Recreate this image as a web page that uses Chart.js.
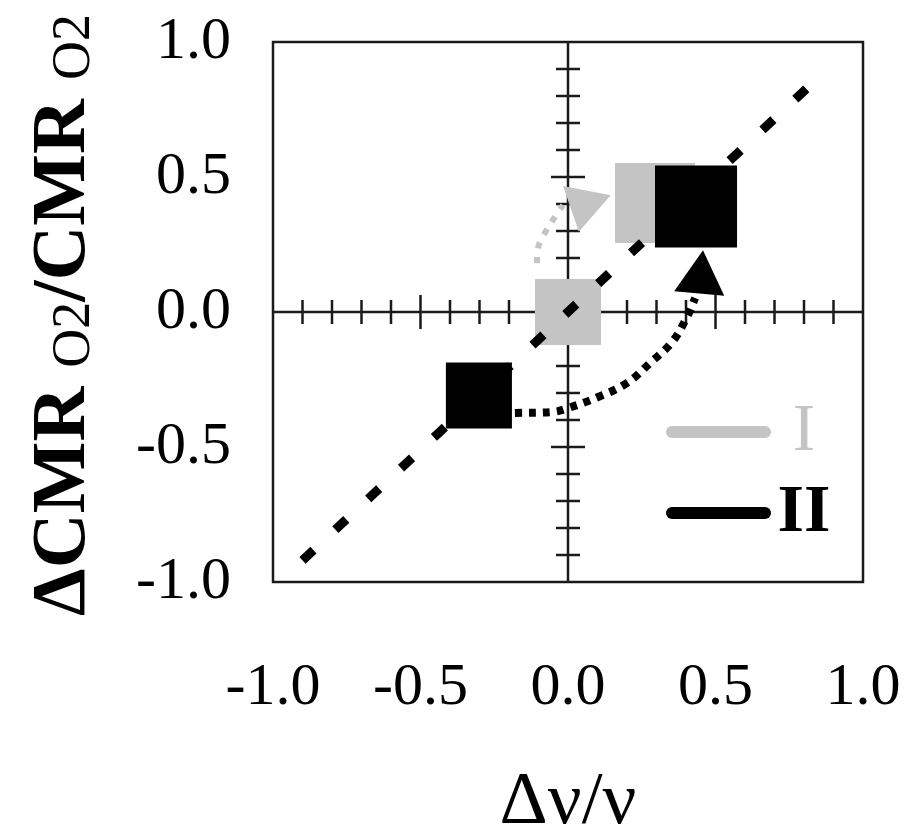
<!DOCTYPE html>
<html>
<head>
<meta charset="utf-8">
<script src="https://cdn.jsdelivr.net/npm/chart.js@4.4.0/dist/chart.umd.min.js"></script>
<style>
  html, body { margin: 0; padding: 0; background: #fff; }
</style>
</head>
<body>
<canvas id="chart" width="922" height="826"></canvas>
<script>
// axis ticks
const tickValues = [-1, -0.5, 0, 0.5, 1];
const tickLabels = ['-1.0', '-0.5', '0.0', '0.5', '1.0'];
const crossTicks = [-0.9, -0.8, -0.7, -0.6, -0.5, -0.4, -0.3, -0.2, -0.1,
                    0.1, 0.2, 0.3, 0.4, 0.5, 0.6, 0.7, 0.8, 0.9];

// identity line (dashed)
const diagonal = [{x: -0.9, y: -0.92}, {x: 0.87, y: 0.89}];

// group I (grey) and group II (black) boxes: start, end
const grayBoxes = [{x: 0.0, y: 0.0}, {x: 0.295, y: 0.404}];
const blackBoxes = [{x: -0.302, y: -0.309}, {x: 0.434, y: 0.391}];

// dotted transition paths
const grayPath = [
  {x: -0.105, y: 0.181}, {x: -0.102, y: 0.237}, {x: -0.078, y: 0.293},
  {x: -0.051, y: 0.341}, {x: -0.017, y: 0.396}
];
const blackPath = [
  {x: -0.180, y: -0.374}, {x: -0.051, y: -0.370}, {x: 0.000, y: -0.356},
  {x: 0.102, y: -0.315}, {x: 0.200, y: -0.263}, {x: 0.278, y: -0.189},
  {x: 0.353, y: -0.111}, {x: 0.403, y: -0.019}, {x: 0.431, y: 0.052}
];

// arrow heads
const grayArrow = [{x: 0.055, y: 0.399}];
const blackArrow = [{x: 0.449, y: 0.122}];

const legendLabels = ['I', 'II'];

const GRAY = '#c4c4c4';
const SERIF = '"Liberation Serif", "DejaVu Serif", serif';
Chart.defaults.font.family = SERIF;

// box + cross axes with ticks through the origin
const frame = {
  id: 'frame',
  beforeDatasetsDraw(chart) {
    const {ctx, chartArea: a, scales: {x, y}} = chart;
    const x0 = x.getPixelForValue(0), y0 = y.getPixelForValue(0);
    ctx.save();
    ctx.strokeStyle = '#1a1a1a';
    ctx.lineWidth = 2.5;
    ctx.strokeRect(a.left, a.top, a.width, a.height);
    ctx.beginPath();
    ctx.moveTo(a.left, y0); ctx.lineTo(a.right, y0);
    ctx.moveTo(x0, a.top); ctx.lineTo(x0, a.bottom);
    crossTicks.forEach(v => {
      const h = Math.abs(Math.abs(v) - 0.5) < 1e-6 ? 17 : 12;
      const px = x.getPixelForValue(v);
      ctx.moveTo(px, y0 - h); ctx.lineTo(px, y0 + h);
      const py = y.getPixelForValue(v);
      ctx.moveTo(x0 - h, py); ctx.lineTo(x0 + h, py);
    });
    ctx.stroke();
    ctx.restore();
  }
};

// axis titles (y title has subscripts)
const titles = {
  id: 'titles',
  afterDraw(chart) {
    const {ctx, chartArea: a} = chart;
    const big = 'bold 76px ' + SERIF, sub = '54px ' + SERIF;
    const runs = [['\u0394CMR ', big, 0], ['O2', sub, 5], ['/CMR ', big, 0], ['O2', sub, 5]];
    ctx.save();
    ctx.fillStyle = '#000';
    ctx.textBaseline = 'alphabetic';
    ctx.textAlign = 'left';
    let total = 0;
    runs.forEach(r => { ctx.font = r[1]; total += ctx.measureText(r[0]).width; });
    ctx.translate(84, (a.top + a.bottom) / 2 + 3);
    ctx.rotate(-Math.PI / 2);
    let cx = -total / 2;
    runs.forEach(r => {
      ctx.font = r[1];
      ctx.fillText(r[0], cx, r[2]);
      cx += ctx.measureText(r[0]).width;
    });
    ctx.restore();

    ctx.save();
    ctx.fillStyle = '#000';
    ctx.font = '75px ' + SERIF;
    ctx.textAlign = 'center';
    ctx.textBaseline = 'alphabetic';
    ctx.fillText('\u0394\u03bd/\u03bd', (a.left + a.right) / 2, 823);
    ctx.restore();
  }
};

// legend drawn inside the plot
const innerLegend = {
  id: 'innerLegend',
  afterDraw(chart) {
    const {ctx, chartArea: a} = chart;
    const colors = [GRAY, '#000'];
    const fonts = ['68px ' + SERIF, 'bold 68px ' + SERIF];
    const rows = [a.top + 390, a.top + 471];
    ctx.save();
    legendLabels.forEach((lab, i) => {
      ctx.strokeStyle = colors[i];
      ctx.lineWidth = 12;
      ctx.lineCap = 'round';
      ctx.beginPath();
      ctx.moveTo(a.right - 191, rows[i]);
      ctx.lineTo(a.right - 98, rows[i]);
      ctx.stroke();
      ctx.fillStyle = colors[i];
      ctx.font = fonts[i];
      ctx.textAlign = 'center';
      ctx.textBaseline = 'alphabetic';
      ctx.fillText(lab, a.right - 59, rows[i] + 18);
    });
    ctx.restore();
  }
};

const noPad = s => { s.paddingLeft = 0; s.paddingRight = 0; s.paddingTop = 0; s.paddingBottom = 0; };

const ctx = document.getElementById('chart').getContext('2d');
new Chart(ctx, {
  type: 'scatter',
  data: {
    datasets: [
      {label: 'I', data: grayBoxes, pointStyle: 'rect', pointRadius: [46.7, 56.6],
       backgroundColor: GRAY, borderWidth: 0, order: 5},
      {label: 'diag', data: diagonal, showLine: true, borderColor: '#000', borderWidth: 9,
       borderDash: [15, 30], borderCapStyle: 'butt', pointRadius: 0, order: 4},
      {label: 'II', data: blackBoxes, pointStyle: 'rect', pointRadius: [46.7, 58],
       backgroundColor: '#000', borderWidth: 0, order: 3},
      {label: 'I path', data: grayPath, showLine: true, tension: 0.4, borderColor: GRAY,
       borderWidth: 6, borderDash: [6, 9], borderCapStyle: 'butt', pointRadius: 0, order: 2},
      {label: 'II path', data: blackPath, showLine: true, tension: 0.4, borderColor: '#000',
       borderWidth: 8, borderDash: [7, 7], borderCapStyle: 'butt', pointRadius: 0, order: 2},
      {label: 'I arrow', data: grayArrow, pointStyle: 'triangle', pointRadius: 28, rotation: 71,
       backgroundColor: GRAY, borderWidth: 0, order: 1},
      {label: 'II arrow', data: blackArrow, pointStyle: 'triangle', pointRadius: 29, rotation: 5,
       backgroundColor: '#000', borderWidth: 0, order: 1}
    ]
  },
  options: {
    responsive: false,
    animation: false,
    devicePixelRatio: 1,
    layout: {autoPadding: false, padding: {top: 42, right: 59, left: 0, bottom: 0}},
    plugins: {legend: {display: false}, tooltip: {enabled: false}},
    scales: {
      x: {
        type: 'linear', min: -1, max: 1,
        afterBuildTicks: s => { s.ticks = tickValues.map(v => ({value: v})); },
        afterFit: s => { s.height = 244; noPad(s); },
        grid: {display: false, drawTicks: true, tickLength: 70},
        border: {display: false},
        ticks: {callback: (v, i) => tickLabels[i], color: '#000', font: {size: 60}, padding: 0, maxRotation: 0}
      },
      y: {
        type: 'linear', min: -1, max: 1,
        afterBuildTicks: s => { s.ticks = tickValues.map(v => ({value: v})); },
        afterFit: s => { s.width = 273; noPad(s); },
        grid: {display: false, drawTicks: true, tickLength: 42},
        border: {display: false},
        ticks: {callback: (v, i) => tickLabels[i], color: '#000', font: {size: 60}, padding: 0}
      }
    }
  },
  plugins: [frame, titles, innerLegend]
});
</script>
</body>
</html>
